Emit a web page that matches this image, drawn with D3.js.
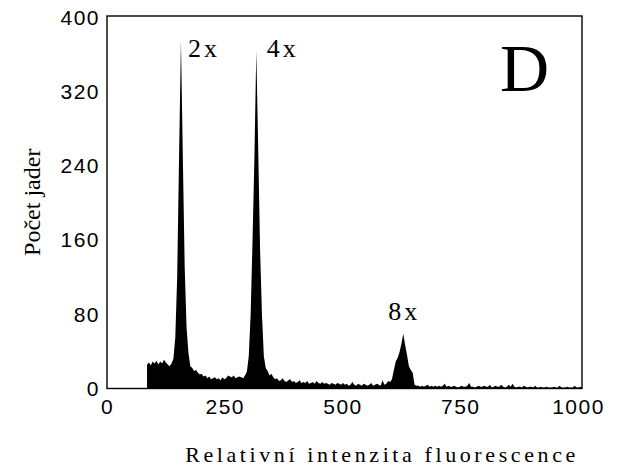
<!DOCTYPE html>
<html><head><meta charset="utf-8">
<script src="https://cdn.jsdelivr.net/npm/d3@7"></script>
<style>body{margin:0;background:#fff}svg{display:block}</style>
</head><body><svg id="c" width="625" height="466"></svg>
<script>
// ---- data ----
const startChannel = 85;
const channelStep = 4;
const counts = [
 26,28,25,29,27,30,26,29,27,31,28,26,24,27,
 32,55,120,250,375,250,130,65,38,
 24,22,19,20,17,15,16,13,14,11,13,10,11,12,10,11,9,12,10,11,14,13,12,14,11,12,13,12,11,14,18,
 35,80,160,250,364,260,150,80,35,
 22,19,14,16,12,10,11,8,9,11,8,7,9,10,7,8,6,7,9,6,7,6,8,5,6,7,5,8,6,5,7,5,6,5,4,6,5,4,6,5,4,6,4,5,3,4,7,4,3,5,4,3,5,4,3,4,6,3,4,5,4,3,9,4,5,8,
 7,10,20,29,33,39,48,59,47,36,24,20,17,4,
 3,3,2,3,2,3,4,2,3,2,3,2,3,2,3,5,2,3,2,2,3,2,1,2,3,2,2,3,6,2,2,1,2,3,2,2,3,2,2,4,1,2,3,2,2,4,2,1,2,4,2,5,2,1,2,2,1,3,2,1,2,2,1,3,1,1,2,1,1,2,1,1,1,2,1,1,3,1,1,1,2,1,1,1,3,1,1,2,1
];
const xTicks = [0, 250, 500, 750, 1000];
const yTicks = [0, 80, 160, 240, 320, 400];
const peakLabels = ["2x", "4x", "8x"];
const peakLabelChannel = [172, 339, 597];
const peakLabelCount = [357, 357, 74];
const panelLabel = "D";
const xTitle = "Relativní intenzita fluorescence";
const yTitle = "Počet jader";

// ---- chart ----
const svg = d3.select("#c");
const L = 107, R = 582, T = 16, B = 388.5;
const x = d3.scaleLinear().domain([0, 1000]).range([L, 578]);
const y = d3.scaleLinear().domain([0, 400]).range([B, 17.5]);

const data = counts.map((v, i) => ({ch: startChannel + i * channelStep, v}));

svg.append("path")
  .datum(data)
  .attr("fill", "#000")
  .attr("d", d3.area().x(d => x(d.ch)).y0(y(0)).y1(d => y(d.v)));

svg.append("rect")
  .attr("x", L).attr("y", T).attr("width", R - L).attr("height", B - T)
  .attr("fill", "none").attr("stroke", "#000").attr("stroke-width", 1.4);

const sans = "'Liberation Sans', Arial, sans-serif";
const serif = "'Liberation Serif', 'Times New Roman', serif";

const gy = svg.append("g").attr("transform", `translate(${L},0)`)
  .call(d3.axisLeft(y).tickValues(yTicks).tickSize(0).tickPadding(7));
gy.select(".domain").remove();
gy.selectAll("text").attr("font-family", sans).attr("font-size", 21)
  .attr("letter-spacing", 1.5).attr("fill", "#000");

const gx = svg.append("g").attr("transform", `translate(0,${B})`)
  .call(d3.axisBottom(x).tickValues(xTicks).tickFormat(d3.format("d")).tickSize(0).tickPadding(11));
gx.select(".domain").remove();
gx.selectAll("text").attr("font-family", sans).attr("font-size", 21)
  .attr("letter-spacing", 1.5).attr("fill", "#000");

svg.append("text")
  .attr("transform", `translate(40,${(T + B) / 2}) rotate(-90)`)
  .attr("text-anchor", "middle")
  .attr("font-family", serif).attr("font-size", 24).attr("fill", "#000")
  .text(yTitle);

svg.append("text")
  .attr("x", 382).attr("y", 462)
  .attr("text-anchor", "middle")
  .attr("font-family", serif).attr("font-size", 22).attr("letter-spacing", 3.6).attr("fill", "#000")
  .text(xTitle);

peakLabels.forEach((t, i) => {
  svg.append("text")
    .attr("x", x(peakLabelChannel[i])).attr("y", y(peakLabelCount[i]))
    .attr("font-family", serif).attr("font-size", 26).attr("letter-spacing", 3)
    .attr("fill", "#000").text(t);
});

svg.append("text")
  .attr("x", 549).attr("y", 91)
  .attr("text-anchor", "end")
  .attr("font-family", serif).attr("font-size", 68).attr("fill", "#000")
  .text(panelLabel);
</script>
</body></html>
